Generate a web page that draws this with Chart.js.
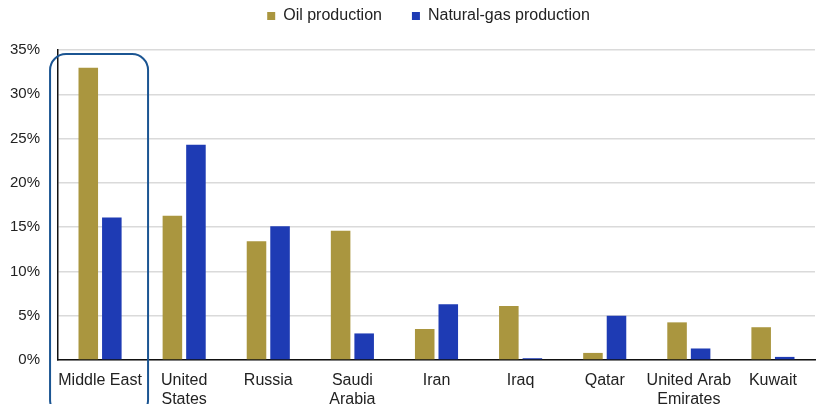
<!DOCTYPE html>
<html>
<head>
<meta charset="utf-8">
<script src="https://cdn.jsdelivr.net/npm/chart.js@4/dist/chart.umd.min.js"></script>
<style>
  html, body { margin: 0; padding: 0; background: #fff; }
  #wrap { width: 820px; height: 404px; }
</style>
</head>
<body>
<div id="wrap"><canvas id="shareChart"></canvas></div>
<script>
// share of world production, %
const regions = ["Middle East", ["United", "States"], "Russia", ["Saudi", "Arabia"], "Iran", "Iraq", "Qatar", ["United Arab", "Emirates"], "Kuwait"];
const oilShare = [33.0, 16.3, 13.4, 14.6, 3.5, 6.1, 0.8, 4.25, 3.7];
const gasShare = [16.1, 24.3, 15.1, 3.0, 6.3, 0.2, 5.0, 1.3, 0.35];
const yTicks = [0, 5, 10, 15, 20, 25, 30, 35];

// rounded outline around the first category
const highlightBox = {
  id: "highlightBox",
  afterDraw(chart) {
    const x = chart.scales.x;
    const y = chart.scales.y;
    const cx = x.getPixelForValue(0);
    const left = cx - 50, right = cx + 48;
    const top = y.top + 4, bottom = chart.height + 12;
    const c = chart.ctx;
    c.save();
    c.strokeStyle = "#1b5592";
    c.lineWidth = 2;
    c.beginPath();
    c.roundRect(left, top, right - left, bottom - top, 16);
    c.stroke();
    c.restore();
  }
};

// legend keeps wide item spacing but a short box, centred over the plot
const legendFit = {
  id: "legendFit",
  beforeInit(chart) {
    const fit = chart.legend.fit;
    chart.legend.fit = function () {
      fit.call(this);
      this.height = 72;
    };
  },
  afterLayout(chart) {
    chart.legend.left += 16;
    chart.legend.right += 16;
  }
};

Chart.defaults.font.family = "'Liberation Sans', Arial, sans-serif";
Chart.defaults.color = "#222";

const ctx = document.getElementById("shareChart").getContext("2d");
const shareChart = new Chart(ctx, {
  type: "bar",
  data: {
    labels: regions,
    datasets: [
      {
        label: "Oil production",
        data: oilShare,
        backgroundColor: "#aa963f",
        categoryPercentage: 0.56,
        barPercentage: 0.83,
      },
      {
        label: "Natural-gas production",
        data: gasShare,
        backgroundColor: "#1e3bb4",
        categoryPercentage: 0.56,
        barPercentage: 0.83,
      },
    ],
  },
  options: {
    responsive: true,
    maintainAspectRatio: false,
    animation: false,
    layout: { padding: { left: 10, right: 5, top: -22, bottom: 0 } },
    plugins: {
      legend: {
        position: "top",
        labels: { boxWidth: 8, boxHeight: 8, padding: 30, color: "#222", font: { size: 16 } },
      },
      tooltip: { enabled: false },
    },
    scales: {
      x: {
        grid: { display: false },
        border: { color: "#111", width: 1.5 },
        ticks: { maxRotation: 0, autoSkip: false, padding: 3, color: "#222", font: { size: 16 } },
        afterFit(axis) {
          axis.paddingLeft = 0;
          axis.paddingRight = 0;
          axis.height = 44;
        },
      },
      y: {
        min: 0,
        max: 35,
        afterBuildTicks(axis) {
          axis.ticks = yTicks.map(v => ({ value: v }));
        },
        afterFit(axis) {
          axis.width = 48;
        },
        grid: { color: "#dadada", lineWidth: 1.5, drawTicks: false },
        border: { color: "#111", width: 1.5 },
        ticks: { padding: 18, color: "#222", font: { size: 15 }, callback: v => v + "%" },
      },
    },
  },
  plugins: [highlightBox, legendFit],
});
</script>
</body>
</html>
